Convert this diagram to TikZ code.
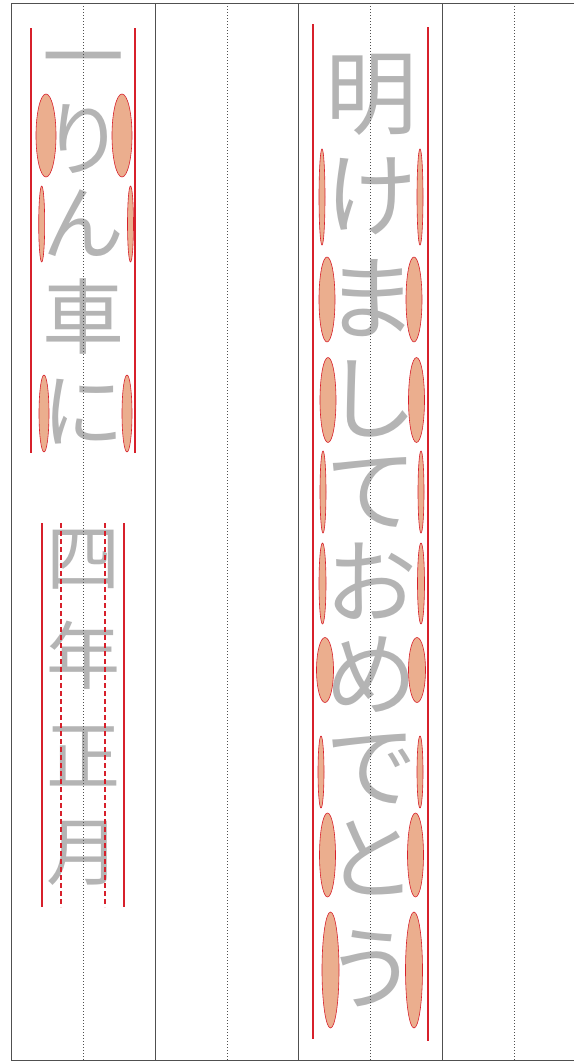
\documentclass[tikz,border=0pt]{standalone}
\usepackage{fontspec}
\newfontfamily\jpfont{Noto Sans CJK JP}
\usepackage{xcolor}
\definecolor{inkgray}{HTML}{B4B4B4}
\definecolor{guidered}{HTML}{D7202B}
\definecolor{ovalfill}{HTML}{EBAE8E}
\definecolor{ruledark}{HTML}{505050}
\usepackage{tikz}
\usetikzlibrary{positioning}

\begin{document}
\begin{tikzpicture}[x=1pt, y=-1pt,
    rule/.style={ruledark, line width=0.9pt},
    midline/.style={ruledark, dash pattern=on 1.2pt off 1.8pt, line width=0.9pt},
    guide/.style={guidered, line width=1.3pt},
    guidedash/.style={guidered, dash pattern=on 5pt off 3pt, line width=1.3pt},
    oval/.style={draw=guidered, fill=ovalfill, line width=0.6pt},
    bigchar/.style={font=\jpfont\fontsize{82}{82}\selectfont, text=inkgray, inner sep=0pt, text height=72.2pt, text depth=9.8pt},
    tallchar/.style={font=\jpfont\fontsize{92}{92}\selectfont, text=inkgray, inner sep=0pt, text height=78.9pt, text depth=9.1pt},
    smallchar/.style={font=\jpfont\fontsize{74}{74}\selectfont, text=inkgray, inner sep=0pt, text height=65.1pt, text depth=8.9pt}]
    \useasboundingbox (0,0) rectangle (574,1063);

    % characters
    \foreach \ch/\y [count=\i] in {一/56, り/138, ん/222, 車/316, に/410}
      \node[bigchar] (top\i) at (83,\y) {\ch};
    \foreach \ch/\y [count=\i] in {四/557, 年/655, 正/755, 月/851}
      \node[smallchar] (date\i) at (83,\y) {\ch};
    \foreach \ch/\y [count=\i] in {明/93, け/195, ま/298, し/398, て/490, お/582, め/674, で/766, と/858, う/968}
      \node[tallchar] (greet\i) at (371,\y) {\ch};

    % sheet
    \draw[rule] (574,3) -- (11,3) -- (11,1060) -- (574,1060);
    \foreach \x in {155,298,442}
      \draw[rule] (\x,3) -- (\x,1060);
    \foreach \x in {83,227,370,514}
      \draw[midline] (\x,3) -- (\x,1060);

    % guide lines
    \draw[guide] (31,28) -- (31,453);
    \draw[guide] (135,28) -- (135,453);
    \draw[guide] (42,523) -- (42,907);
    \draw[guide] (124,523) -- (124,907);
    \draw[guidedash] (61,523) -- (61,907);
    \draw[guidedash] (105,523) -- (105,907);
    \draw[guide] (313,24) -- (313,1039);
    \draw[guide] (428,27) -- (428,1041);

    % ovals: left x / right x / y / width / height
    \foreach \xl/\xr/\y/\w/\h in {46/122/135.5/20/83, 41.7/130.5/224/6/76, 44/127/413.5/10/77,
        322/420/197/6/96, 327/414/299.5/16/85, 328/416.5/400/16/85, 323/421/492/6/82,
        322.5/421/583.5/7/81, 325/417/670/17/65, 321/420/772/6/72, 327.5/415.5/855/16/84,
        330.5/414/970/17/116}{
      \draw[oval] (\xl,\y) ellipse [x radius=\w/2, y radius=\h/2];
      \draw[oval] (\xr,\y) ellipse [x radius=\w/2, y radius=\h/2];
    }
\end{tikzpicture}
\end{document}
